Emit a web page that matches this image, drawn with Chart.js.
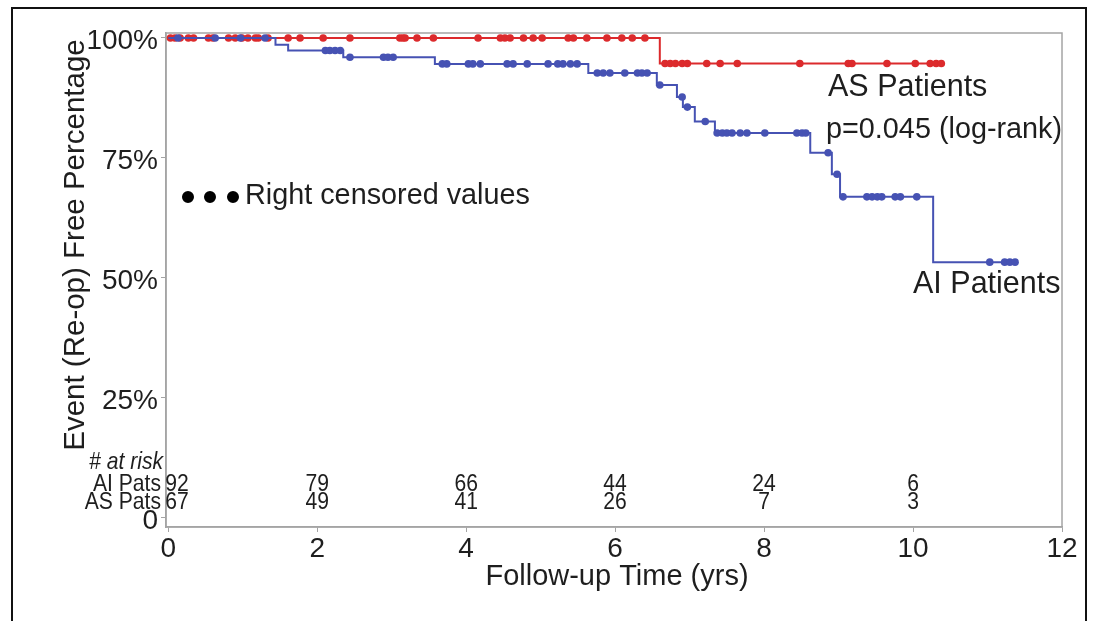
<!DOCTYPE html>
<html>
<head>
<meta charset="utf-8">
<script src="https://cdn.jsdelivr.net/npm/chart.js@4/dist/chart.umd.min.js"></script>
<style>
  html, body { margin: 0; padding: 0; background: #fff; }
  #wrap { position: relative; width: 1095px; height: 621px; overflow: hidden; }
  #frame { position: absolute; left: 11px; top: 7px; width: 1072px; height: 640px; border: 2px solid #111; }
  #km { position: absolute; left: 0; top: 0; }
</style>
</head>
<body>
<div id="wrap">
  <div id="frame"></div>
  <canvas id="km" width="1095" height="621"></canvas>
</div>
<script>
// Kaplan-Meier: freedom from re-operation, AI vs AS patients
const aiEventTimes = [1.44, 1.61, 2.35, 3.58, 5.64, 6.56, 6.83, 6.91, 7.07, 7.34, 8.62, 8.91, 9.02, 10.27];
const aiSurvival   = [98.6, 97.4, 96.0, 94.6, 92.7, 90.2, 87.7, 85.6, 82.6, 80.2, 76.1, 71.6, 66.9, 53.3];
const aiCensored = [0.13, 0.63, 0.97, 1.30, 2.11, 2.17, 2.24, 2.31, 2.44, 2.89, 2.95, 3.02, 3.68, 3.74,
  4.03, 4.09, 4.19, 4.55, 4.63, 4.82, 5.10, 5.23, 5.30, 5.40, 5.49, 5.76, 5.84, 5.93, 6.13, 6.30, 6.36,
  6.43, 6.60, 6.90, 6.97, 7.21, 7.37, 7.44, 7.50, 7.57, 7.68, 7.77, 8.01, 8.44, 8.51, 8.56, 8.86, 8.98,
  9.06, 9.38, 9.45, 9.52, 9.58, 9.76, 9.83, 10.05, 11.03, 11.23, 11.30, 11.37];

const asEventTimes = [6.60];
const asSurvival   = [94.7];
const asCensored = [0.03, 0.09, 0.16, 0.27, 0.34, 0.54, 0.60, 0.81, 0.90, 0.99, 1.07, 1.17, 1.21, 1.34,
  1.61, 1.77, 2.08, 2.44, 3.11, 3.15, 3.18, 3.34, 3.56, 4.16, 4.46, 4.52, 4.59, 4.77, 4.90, 5.02, 5.37,
  5.44, 5.62, 5.89, 6.09, 6.23, 6.40, 6.67, 6.74, 6.81, 6.90, 6.97, 7.23, 7.41, 7.64, 8.48, 9.13, 9.18,
  9.65, 10.03, 10.23, 10.31, 10.38];

const xTicks = [0, 2, 4, 6, 8, 10, 12];
const yTicks = [0, 25, 50, 75, 100];
const riskTimes = [0, 2, 4, 6, 8, 10];
const aiAtRisk = [92, 79, 66, 44, 24, 6];
const asAtRisk = [67, 49, 41, 26, 7, 3];

const BLUE = '#4652b3';
const RED = '#dc2a2c';
const FONT = '"Liberation Sans", Arial, sans-serif';

// merge events and censor marks into one step curve; censored points carry c=true
function kmPoints(evT, evS, cens) {
  const pts = [{ x: 0, y: 100, c: false }];
  evT.forEach((t, i) => pts.push({ x: t, y: evS[i], c: false }));
  cens.forEach(t => pts.push({ x: t, y: null, c: true }));
  pts.sort((a, b) => a.x - b.x || (a.c ? 1 : -1));
  let level = 100;
  pts.forEach(p => { if (p.c) p.y = level; else level = p.y; });
  return pts;
}

const frame = {
  id: 'frame',
  beforeDatasetsDraw(chart) {
    const a = chart.chartArea, c = chart.ctx;
    c.save();
    c.strokeStyle = '#a4a4a4';
    c.lineWidth = 1.5;
    c.strokeRect(a.left, a.top, a.right - a.left, a.bottom - a.top);
    c.restore();
  }
};

// draws condensed text for the at-risk table
function narrowText(c, txt, x, y, align) {
  c.save();
  c.translate(x, y);
  c.scale(0.88, 1);
  c.textAlign = align;
  c.fillText(txt, 0, 0);
  c.restore();
}

const labels = {
  id: 'labels',
  afterDraw(chart) {
    const c = chart.ctx, xs = chart.scales.x;
    c.save();
    c.fillStyle = '#1e1e1e';
    c.textBaseline = 'middle';

    // axis titles
    c.font = '29px ' + FONT;
    c.textAlign = 'center';
    c.fillText('Follow-up Time (yrs)', 617, 577);
    c.save();
    c.translate(76, 245);
    c.rotate(-Math.PI / 2);
    c.font = '29.5px ' + FONT;
    c.fillText('Event (Re-op) Free Percentage', 0, 0);
    c.restore();

    // curve labels
    c.textAlign = 'left';
    c.font = '30.5px ' + FONT;
    c.fillText('AS Patients', 828, 88);
    c.fillText('AI Patients', 913, 285);
    c.font = '28.8px ' + FONT;
    c.fillText('p=0.045 (log-rank)', 826, 130);
    c.fillText('Right censored values', 245, 196);
    c.beginPath();
    [188, 210, 233].forEach(x => { c.moveTo(x + 6, 197); c.arc(x, 197, 6, 0, Math.PI * 2); });
    c.fillStyle = '#000';
    c.fill();

    // number at risk table
    c.fillStyle = '#1e1e1e';
    c.font = 'italic 24px ' + FONT;
    narrowText(c, '# at risk', 163, 462, 'right');
    c.font = '24px ' + FONT;
    narrowText(c, 'AI Pats', 161, 484, 'right');
    narrowText(c, 'AS Pats', 161, 502, 'right');
    riskTimes.forEach((t, i) => {
      const x = xs.getPixelForValue(t);
      const align = t === 0 ? 'left' : 'center';
      const px = t === 0 ? x - 3 : x;
      narrowText(c, String(aiAtRisk[i]), px, 484, align);
      narrowText(c, String(asAtRisk[i]), px, 502, align);
    });
    c.restore();
  }
};

function curve(label, color, evT, evS, cens) {
  return {
    label,
    data: kmPoints(evT, evS, cens),
    borderColor: color,
    backgroundColor: color,
    borderWidth: 2,
    stepped: 'before',
    fill: false,
    pointRadius: ctx => (ctx.raw && ctx.raw.c ? 3.8 : 0),
    pointBorderWidth: 0,
    pointHoverRadius: 0
  };
}

new Chart(document.getElementById('km'), {
  type: 'line',
  data: {
    datasets: [
      curve('AI Patients', BLUE, aiEventTimes, aiSurvival, aiCensored),
      curve('AS Patients', RED, asEventTimes, asSurvival, asCensored)
    ]
  },
  plugins: [frame, labels],
  options: {
    responsive: false,
    animation: false,
    events: [],
    layout: { padding: { top: 33, right: 33, left: 0, bottom: 0 } },
    plugins: { legend: { display: false }, tooltip: { enabled: false } },
    scales: {
      x: {
        type: 'linear',
        min: -0.03,
        max: 12,
        afterBuildTicks: s => { s.ticks = xTicks.map(v => ({ value: v })); },
        afterFit: s => { s.height = 94; },
        grid: { drawOnChartArea: false, color: '#a4a4a4', tickLength: 5 },
        border: { color: '#a4a4a4', width: 1.5 },
        ticks: { color: '#1e1e1e', font: { family: FONT, size: 28 }, padding: 0, maxRotation: 0 }
      },
      y: {
        min: -1.875,
        max: 101.04,
        afterBuildTicks: s => { s.ticks = yTicks.map(v => ({ value: v })); },
        afterFit: s => { s.width = 166; },
        grid: { drawOnChartArea: false, color: '#a4a4a4', tickLength: 5 },
        border: { color: '#a4a4a4', width: 1.5 },
        ticks: {
          color: '#1e1e1e',
          font: { family: FONT, size: 28 },
          padding: 3,
          labelOffset: 3,
          callback: v => (v === 0 ? '0' : v + '%')
        }
      }
    }
  }
});
</script>
</body>
</html>
